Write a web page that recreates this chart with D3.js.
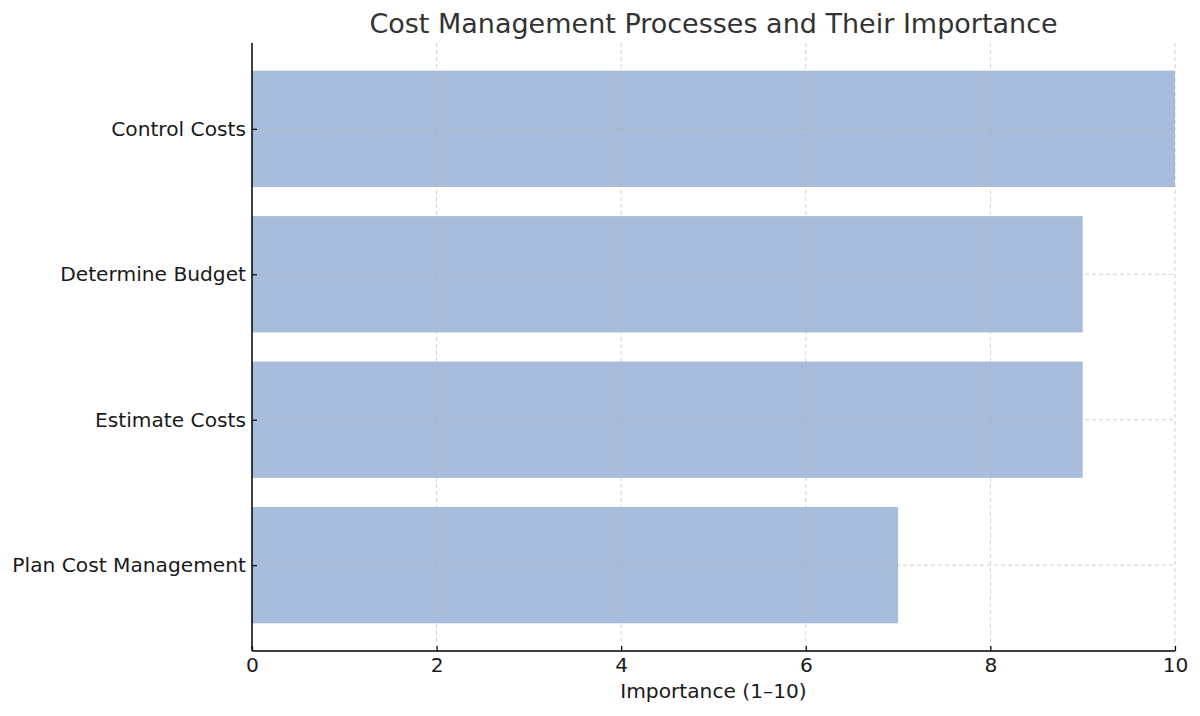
<!DOCTYPE html>
<html><head><meta charset="utf-8">
<script src="https://cdn.jsdelivr.net/npm/d3@7"></script>
<style>body{margin:0;background:#fff}text{font-family:"DejaVu Sans",sans-serif}</style>
</head><body><svg id="c" width="1200" height="716"></svg>
<script>
const categories = ["Plan Cost Management", "Estimate Costs", "Determine Budget", "Control Costs"];
const values = [7, 9, 9, 10];
const xTicks = [0, 2, 4, 6, 8, 10];
const title = "Cost Management Processes and Their Importance";
const xLabel = "Importance (1–10)";

const svg = d3.select("#c");
const L = 252, R = 1175, T = 43, B = 651;
const x = d3.scaleLinear().domain([0, 10]).range([L, R]);
const y = d3.scaleLinear().domain([-0.59, 3.59]).range([B, T]);
const bh = y(0) - y(0.8);

svg.selectAll("rect.bar").data(values).enter().append("rect")
  .attr("x", x(0)).attr("y", (d, i) => y(i + 0.4))
  .attr("width", d => x(d) - x(0)).attr("height", bh)
  .attr("fill", "#a8bddb");

// grid
const g = svg.append("g");
g.selectAll("line.gx").data(xTicks.slice(1)).enter().append("line")
  .attr("x1", d => x(d)).attr("x2", d => x(d)).attr("y1", T).attr("y2", B)
  .attr("stroke", "#b0b0b0").attr("stroke-opacity", 0.6).attr("stroke-dasharray", "4,3");
g.selectAll("line.gy").data(categories).enter().append("line")
  .attr("x1", L).attr("x2", R).attr("y1", (d, i) => y(i)).attr("y2", (d, i) => y(i))
  .attr("stroke", "#b0b0b0").attr("stroke-opacity", 0.6).attr("stroke-dasharray", "4,3");

// axes (ticks pointing inward)
const xa = svg.append("g").attr("transform", `translate(0,${B})`)
  .call(d3.axisBottom(x).tickValues(xTicks).tickSize(-5).tickPadding(7).tickFormat(d3.format("d")));
const ya = svg.append("g").attr("transform", `translate(${L},0)`)
  .call(d3.axisLeft(y).tickValues([0, 1, 2, 3]).tickSize(-5).tickPadding(6).tickFormat(i => categories[i]));
[xa, ya].forEach(a => {
  a.selectAll("path.domain").remove();
  a.selectAll("line").attr("stroke", "#000").attr("stroke-width", 1.2);
  a.selectAll("text").attr("font-size", 20.2).attr("fill", "#1a1a1a").attr("font-family", "DejaVu Sans");
});
svg.append("line").attr("x1", L).attr("x2", L).attr("y1", T).attr("y2", B).attr("stroke", "#000").attr("stroke-width", 1.5);
svg.append("line").attr("x1", L).attr("x2", R).attr("y1", B).attr("y2", B).attr("stroke", "#000").attr("stroke-width", 1.5);

svg.append("text").attr("x", (L + R) / 2).attr("y", 698).attr("text-anchor", "middle")
  .attr("font-size", 20.2).attr("fill", "#1a1a1a").text(xLabel);
svg.append("text").attr("x", (L + R) / 2).attr("y", 33).attr("text-anchor", "middle")
  .attr("font-size", 27).attr("fill", "#333").text(title);
</script></body></html>
